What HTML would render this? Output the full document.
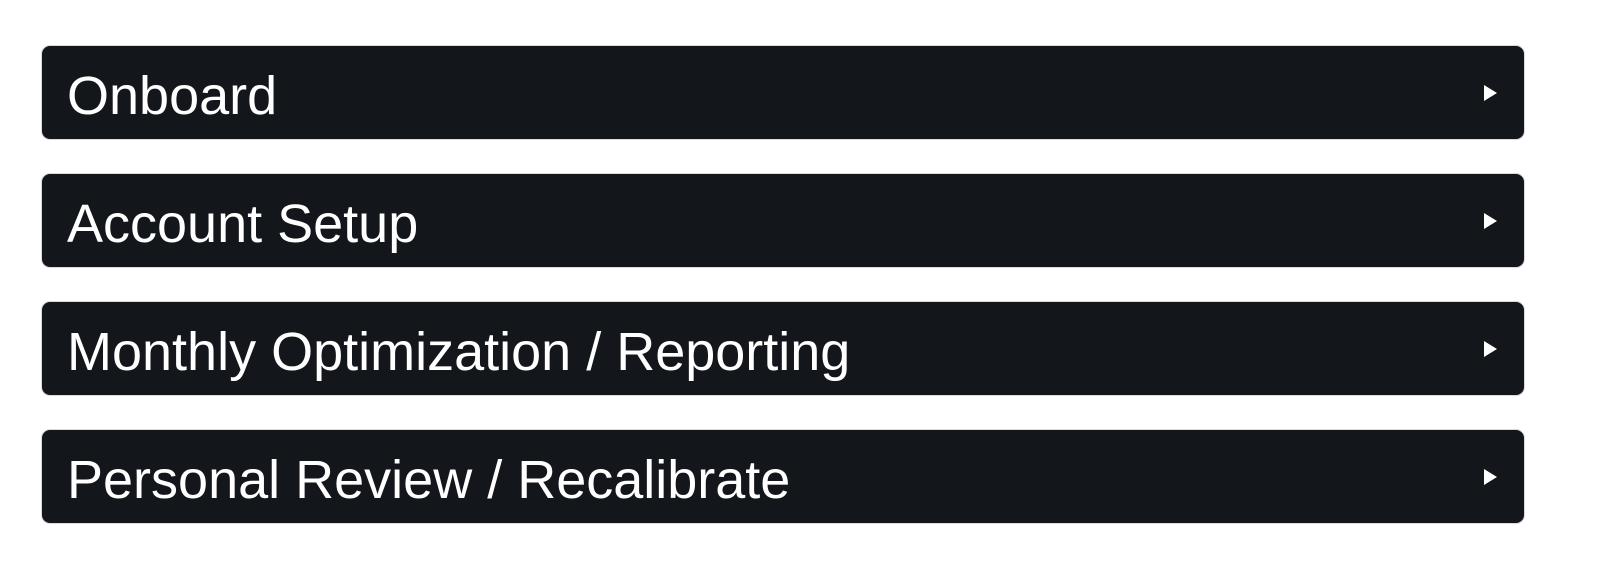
<!DOCTYPE html>
<html><head><meta charset="utf-8"><style>
html,body{margin:0;padding:0;background:#fff;width:1600px;height:573px;overflow:hidden}
.b{position:absolute;left:42px;width:1482px;height:93px;background:#13161b;border-radius:8px;box-shadow:0 0 0 1px #d8dadd}
.t{position:absolute;left:25px;top:4px;line-height:93px;color:#fff;font-family:"Liberation Sans",sans-serif;font-size:54px;font-weight:normal;white-space:nowrap}
.a{position:absolute;left:1442px;top:39px;width:0;height:0;border-left:13px solid #fff;border-top:8px solid transparent;border-bottom:8px solid transparent}
</style></head><body>
<div class="b" style="top:46px"><div class="t">Onboard</div><div class="a"></div></div>
<div class="b" style="top:174px"><div class="t">Account Setup</div><div class="a"></div></div>
<div class="b" style="top:302px"><div class="t">Monthly Optimization / Reporting</div><div class="a"></div></div>
<div class="b" style="top:430px"><div class="t">Personal Review / Recalibrate</div><div class="a"></div></div>
</body></html>
